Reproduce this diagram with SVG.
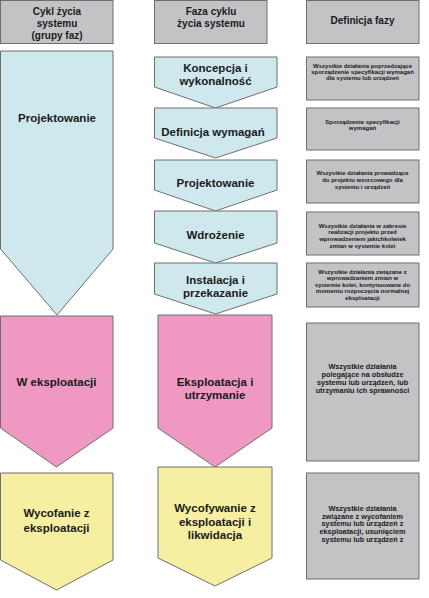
<svg xmlns="http://www.w3.org/2000/svg" width="429" height="598" viewBox="0 0 429 598">
<style>
  .shape { stroke: #6e6e6e; stroke-width: 1; }
  .hdr { fill: #c3c3c6; }
  .blue { fill: #cfe8ee; }
  .pink { fill: #ef98c1; }
  .yellow { fill: #f6efa2; }
  .gray { fill: #c3c3c6; }
  text { font-family: "Liberation Sans", Arial, sans-serif; font-weight: bold; fill: #1a1a1a; text-anchor: middle; }
  .h { font-size: 10px; }
  .big { font-size: 11.5px; }
  .sm { font-size: 6px; }
  .md { font-size: 7.3px; }
</style>
<rect width="429" height="598" fill="#ffffff"/>

<g id="header-cycle">
  <rect class="shape hdr" x="0.5" y="0.5" width="112.5" height="43"/>
  <text class="h" x="57" y="14.5">Cykl życia</text>
  <text class="h" x="57" y="26.5">systemu</text>
  <text class="h" x="57" y="38.5">(grupy faz)</text>
</g>
<g id="header-phase">
  <rect class="shape hdr" x="154.5" y="0.5" width="112.5" height="43"/>
  <text class="h" x="211" y="14.5">Faza cyklu</text>
  <text class="h" x="211" y="26.5">życia systemu</text>
</g>
<g id="header-definition">
  <rect class="shape hdr" x="306.5" y="0.5" width="112.5" height="43"/>
  <text class="h" x="362.5" y="23.5">Definicja fazy</text>
</g>

<g id="group-projektowanie">
  <polygon class="shape blue" points="0.5,51 113,51 113,249 57,315 0.5,249"/>
  <text class="big" x="57" y="122">Projektowanie</text>
</g>
<g id="group-eksploatacja">
  <polygon class="shape pink" points="0.5,316 113,316 113,428 56.5,467 0.5,428"/>
  <text class="big" x="56.5" y="386">W eksploatacji</text>
</g>
<g id="group-wycofanie">
  <polygon class="shape yellow" points="0.5,473 113,473 113,560 56.5,590 0.5,560"/>
  <text class="big" x="56.5" y="517">Wycofanie z</text>
  <text class="big" x="56.5" y="532">eksploatacji</text>
</g>

<g id="phase-koncepcja">
  <polygon class="shape blue" points="154.5,57 277,57 277,87 215.5,108 154.5,87"/>
  <text class="big" x="215.5" y="72">Koncepcja i</text>
  <text class="big" x="215.5" y="85">wykonalność</text>
</g>
<g id="phase-definicja">
  <polygon class="shape blue" points="154.5,108 277,108 277,138 215.5,158 154.5,138"/>
  <text class="big" x="213" y="136">Definicja wymagań</text>
</g>
<g id="phase-projektowanie">
  <polygon class="shape blue" points="154.5,160 277,160 277,190 215.5,211 154.5,190"/>
  <text class="big" x="215.5" y="187">Projektowanie</text>
</g>
<g id="phase-wdrozenie">
  <polygon class="shape blue" points="154.5,211 277,211 277,243 215.5,263 154.5,243"/>
  <text class="big" x="215.5" y="239">Wdrożenie</text>
</g>
<g id="phase-instalacja">
  <polygon class="shape blue" points="154.5,263 277,263 277,294 215.5,314 154.5,294"/>
  <text class="big" x="215.5" y="284">Instalacja i</text>
  <text class="big" x="215.5" y="297">przekazanie</text>
</g>
<g id="phase-eksploatacja">
  <polygon class="shape pink" points="158,315 272,315 272,428 215,467 158,428"/>
  <text class="big" x="215" y="386">Eksploatacja i</text>
  <text class="big" x="215" y="399">utrzymanie</text>
</g>
<g id="phase-wycofywanie">
  <polygon class="shape yellow" points="158,467 272,467 272,558 215,586 158,558"/>
  <text class="big" x="215" y="512">Wycofywanie z</text>
  <text class="big" x="215" y="526">eksploatacji i</text>
  <text class="big" x="215" y="539">likwidacja</text>
</g>

<g id="def-koncepcja">
  <rect class="shape gray" x="306.5" y="57" width="112.5" height="43"/>
  <text class="sm" x="362.5" y="67.5">Wszystkie działania poprzedzające</text>
  <text class="sm" x="362.5" y="73.5">sporządzenie specyfikacji wymagań</text>
  <text class="sm" x="362.5" y="79.5">dla systemu lub urządzeń</text>
</g>
<g id="def-definicja">
  <rect class="shape gray" x="306.5" y="108" width="112.5" height="42"/>
  <text class="sm" x="362.5" y="124">Sporządzenie specyfikacji</text>
  <text class="sm" x="362.5" y="130">wymagań</text>
</g>
<g id="def-projektowanie">
  <rect class="shape gray" x="306.5" y="160" width="112.5" height="43"/>
  <text class="sm" x="362.5" y="175">Wszystkie działania prowadzące</text>
  <text class="sm" x="362.5" y="182">do projektu wzorcowego dla</text>
  <text class="sm" x="362.5" y="189">systemu i urządzeń</text>
</g>
<g id="def-wdrozenie">
  <rect class="shape gray" x="306.5" y="212" width="112.5" height="43"/>
  <text class="sm" x="362.5" y="227.5">Wszystkie działania w zakresie</text>
  <text class="sm" x="362.5" y="234.3">realizacji projektu przed</text>
  <text class="sm" x="362.5" y="241">wprowadzeniem jakichkolwiek</text>
  <text class="sm" x="362.5" y="248">zmian w systemie kolei</text>
</g>
<g id="def-instalacja">
  <rect class="shape gray" x="306.5" y="263" width="112.5" height="44"/>
  <text class="sm" x="362.5" y="274">Wszystkie działania związane z</text>
  <text class="sm" x="362.5" y="280.3">wprowadzaniem zmian w</text>
  <text class="sm" x="362.5" y="286.6">systemie kolei, kontynuowane do</text>
  <text class="sm" x="362.5" y="293">momentu rozpoczęcia normalnej</text>
  <text class="sm" x="362.5" y="299.5">eksploatacji</text>
</g>
<g id="def-eksploatacja">
  <rect class="shape gray" x="306.5" y="323" width="112.5" height="138"/>
  <text class="md" x="362.5" y="368.5">Wszystkie działania</text>
  <text class="md" x="362.5" y="376.7">polegające na obsłudze</text>
  <text class="md" x="362.5" y="384.9">systemu lub urządzeń, lub</text>
  <text class="md" x="362.5" y="393.1">utrzymaniu ich sprawności</text>
</g>
<g id="def-wycofywanie">
  <rect class="shape gray" x="306.5" y="473" width="112.5" height="106"/>
  <text class="md" x="362.5" y="511">Wszystkie działania</text>
  <text class="md" x="362.5" y="518.7">związane z wycofaniem</text>
  <text class="md" x="362.5" y="526.4">systemu lub urządzeń z</text>
  <text class="md" x="362.5" y="534.1">eksploatacji, usunięciem</text>
  <text class="md" x="362.5" y="541.8">systemu lub urządzeń z</text>
</g>

<g id="connectors"></g>
</svg>
